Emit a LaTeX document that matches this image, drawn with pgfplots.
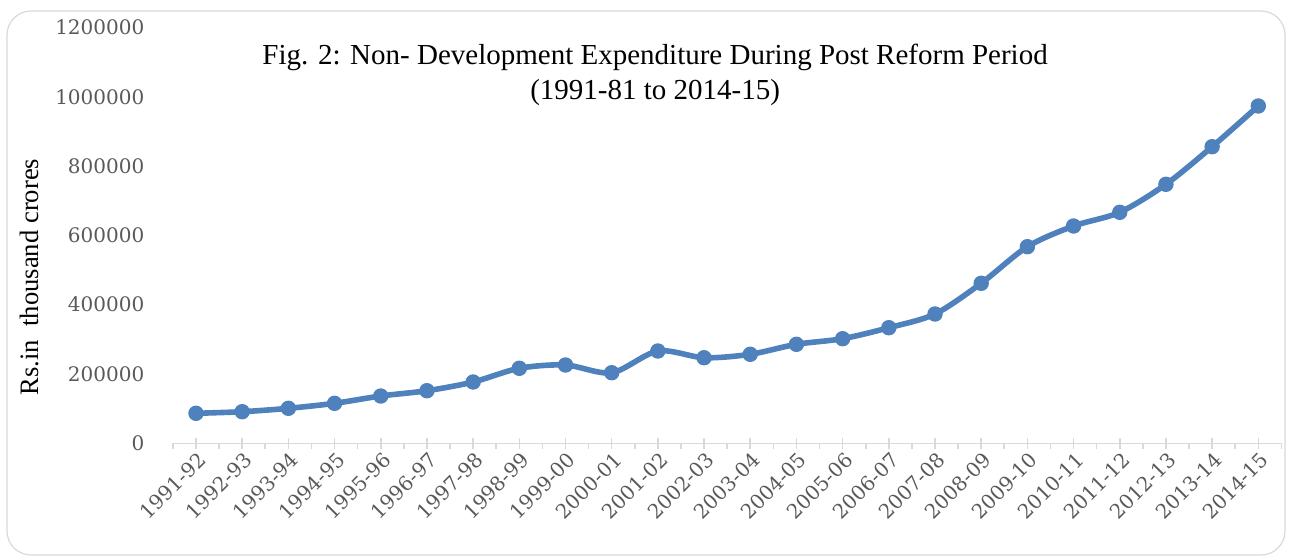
\documentclass[border=0pt]{standalone}
\usepackage{fontspec}
\setmainfont{Liberation Serif}
\newfontfamily\tickfont{DejaVu Serif}
\usepackage{pgfplots}
\pgfplotsset{compat=1.18}
\definecolor{excelblue}{HTML}{4F81BD}
\definecolor{axisgray}{HTML}{D9D9D9}
\definecolor{labelgray}{HTML}{595959}
\begin{document}
\begin{tikzpicture}
\begin{axis}[
  scale only axis,
  width=554.25pt, height=207.9pt,
  xmin=-0.5, xmax=23.5,
  ymin=0, ymax=1200000,
  axis x line*=bottom, axis y line*=left,
  y axis line style={draw=none},
  x axis line style={draw=axisgray, line width=0.8pt},
  ytick={0,200000,...,1200000},
  ytick style={draw=none},
  scaled y ticks=false,
  yticklabel={\pgfmathprintnumber[fixed,1000 sep={}]{\tick}},
  /pgf/number format/assume math mode=true,
  ticklabel style={font=\tickfont\fontsize{10}{12}\selectfont, text=labelgray},
  yticklabel style={xshift=-8pt},
  xtick={0,...,23},
  xticklabels={1991-92,1992-93,1993-94,1994-95,1995-96,1996-97,1997-98,1998-99,1999-00,2000-01,2001-02,2002-03,2003-04,2004-05,2005-06,2006-07,2007-08,2008-09,2009-10,2010-11,2011-12,2012-13,2013-14,2014-15},
  xticklabel style={rotate=45, anchor=east, xshift=3pt, yshift=-5pt},
  xtick style={draw=axisgray, line width=0.8pt},
  tick align=center,
  major tick length=5.5pt,
  extra x ticks={-0.5,0.5,...,23.5},
  extra x tick labels={},
  extra x tick style={tick align=outside, major tick length=2.75pt},
  title={Fig. 2: Non- Development Expenditure During Post Reform Period\\(1991-81 to 2014-15)},
  title style={at={(rel axis cs:0.435,0.858)}, anchor=center, align=center, font=\fontsize{14.5}{17.5}\selectfont},
  ylabel={Rs.in\ \ thousand crores},
  every axis y label/.style={at={(rel axis cs:-0.129,0.4)}, rotate=90, anchor=center, font=\fontsize{13.3}{16}\selectfont},
  clip=false,
]
\addplot[color=excelblue, line width=2.8pt, smooth, tension=0.5, mark=*, mark size=3.6pt, mark options={line width=0.5pt, fill=excelblue}]
coordinates {
(0,86600) (1,91200) (2,101000) (3,115400) (4,136500) (5,151800) (6,176900) (7,216500)
(8,226000) (9,203700) (10,266400) (11,247000) (12,256900) (13,285700) (14,301900)
(15,333600) (16,373200) (17,461800) (18,567400) (19,627100) (20,666700) (21,747500)
(22,856000) (23,973500)
};
\end{axis}
\draw[axisgray, line width=0.6pt, rounded corners=12pt] (-82.95pt,-55.85pt) rectangle (556.05pt,216.15pt);
\pgfresetboundingbox
\useasboundingbox (-86.45pt,-57.85pt) rectangle (558.05pt,221.65pt);
\end{tikzpicture}
\end{document}
